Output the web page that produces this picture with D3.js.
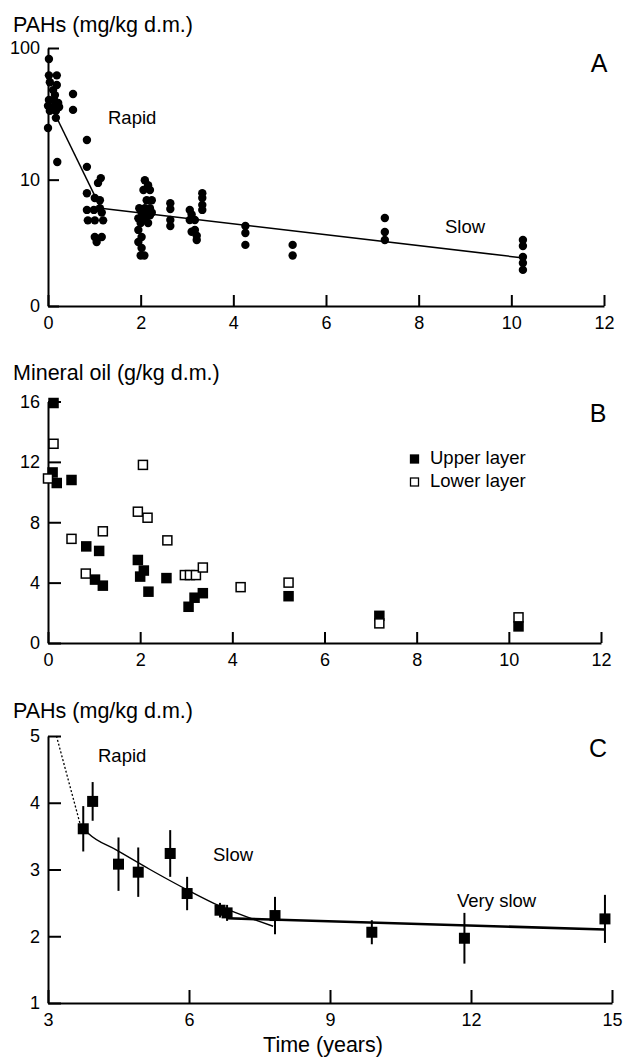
<!DOCTYPE html>
<html>
<head>
<meta charset="utf-8">
<script src="https://cdn.jsdelivr.net/npm/d3@7"></script>
<style>
  body { margin: 0; background: #fff; }
  svg text { font-family: "Liberation Sans", Arial, sans-serif; fill: #000; }
</style>
</head>
<body>
<svg id="chart" width="623" height="1057"></svg>
<script>
// Panel A: PAHs, all samples
const pahTime = [0.02, 0.02, 0.19, 0.04, 0.19, 0.11, 0.15, 0.02, 0.13, 0.22, 0, 0.11, 0.24, 0.04, 0.17, 0.17, 0, 0.2,
  0.54, 0.54, 0.84, 0.84,
  1.14, 1.08, 0.84, 1.01, 1.12, 0.84, 0.99, 1.12, 1.16, 0.86, 1.01, 1.19, 1.01, 1.16, 1.05,
  2.09, 2.16, 2.2, 2.06, 2.13, 2.24, 1.97, 2.09, 2.2, 2.02, 2.13, 2.24, 1.95, 2.09, 2.2, 2.0, 2.16, 1.95, 2.02, 1.95, 2.02, 2.0, 2.08,
  2.64, 2.64, 2.64, 2.64,
  3.06, 3.1, 3.17, 3.06, 3.1, 3.17, 3.21, 3.21,
  3.33, 3.33, 3.33, 3.33,
  4.26, 4.26, 4.26, 5.28, 5.28,
  7.27, 7.27, 7.27,
  10.25, 10.25, 10.25, 10.25, 10.25];
const pahValue = [83, 63, 63, 56, 53.5, 49, 45, 41.4, 41.4, 39.3, 37.4, 36.7, 36.7, 34.3, 34.3, 30.4, 25.5, 13.9,
  45.9, 34.9, 20.6, 12.7,
  10.3, 9.4, 7.7, 7.0, 6.7, 5.5, 5.5, 5.7, 5.2, 4.4, 4.4, 4.4, 3.0, 3.0, 2.65,
  9.9, 9.0, 8.2, 8.2, 6.7, 6.7, 5.7, 5.7, 5.7, 5.2, 5.2, 5.2, 4.6, 4.6, 4.9, 4.15, 4.15, 3.55, 3.0, 2.65, 2.27, 1.84, 1.84,
  6.3, 5.6, 4.44, 3.88,
  5.5, 5.0, 4.44, 4.44, 3.4, 3.55, 3.1, 2.79,
  7.7, 7.0, 6.1, 5.5,
  3.88, 3.3, 2.46, 2.46, 1.84,
  4.63, 3.38, 2.79,
  2.79, 2.39, 1.76, 1.46, 1.15];
const rapidFitA = [[0.17, 31.4], [1.14, 5.7]];
const slowFitA = [[1.14, 5.7], [10.22, 1.72]];

// Panel B: mineral oil, upper and lower layer
const upperTime = [0.12, 0.10, 0.19, 0.51, 0.83, 1.11, 1.02, 1.19, 1.95, 2.08, 2.0, 2.18, 2.57, 3.05, 3.18, 3.36, 5.22, 7.19, 10.21];
const upperValue = [15.9, 11.3, 10.6, 10.8, 6.4, 6.1, 4.2, 3.8, 5.5, 4.8, 4.4, 3.4, 4.3, 2.4, 3.0, 3.3, 3.1, 1.8, 1.1];
const lowerTime = [0.12, 2.06, 0.0, 1.95, 2.16, 0.51, 1.19, 2.59, 0.82, 2.97, 3.08, 3.21, 3.36, 4.18, 5.22, 7.19, 10.21];
const lowerValue = [13.2, 11.8, 10.9, 8.7, 8.3, 6.9, 7.4, 6.8, 4.6, 4.5, 4.5, 4.5, 5.0, 3.7, 4.0, 1.3, 1.7];

// Panel C: PAHs means with error bars
const cTime = [3.75, 3.95, 4.50, 4.92, 5.60, 5.96, 6.66, 6.81, 7.83, 9.89, 11.86, 14.85];
const cMean = [3.61, 4.02, 3.08, 2.96, 3.24, 2.64, 2.39, 2.35, 2.31, 2.06, 1.97, 2.26];
const cErr = [0.34, 0.29, 0.40, 0.37, 0.35, 0.25, 0.11, 0.12, 0.28, 0.18, 0.38, 0.36];
const rapidFitC = [[3.18, 5.0], [3.68, 3.69]];
const slowFitC = [[3.75, 3.62], [3.86, 3.54], [4.46, 3.29], [5.17, 3.0], [5.95, 2.70], [6.66, 2.45], [7.79, 2.15]];
const verySlowFitC = [[6.8, 2.27], [14.85, 2.10]];

const svg = d3.select("#chart");

function styleAxis(g) {
  g.select(".domain").attr("stroke-width", 2);
  g.selectAll(".tick line").attr("stroke-width", 2);
  g.selectAll(".tick text").style("font-size", "18px").attr("fill", "#000");
  g.attr("font-family", null);
}

function addText(x, y, txt, size, anchor) {
  svg.append("text")
    .attr("x", x)
    .attr("y", y)
    .attr("text-anchor", anchor || "start")
    .style("font-size", size + "px")
    .text(txt);
}

// ---------- Panel A ----------
const xA = d3.scaleLinear().domain([0, 12]).range([48, 604]);
const yA = d3.scaleSymlog().constant(1.4).domain([0, 100]).range([306, 48]);

svg.append("g")
  .attr("transform", "translate(0,306)")
  .call(d3.axisBottom(xA).tickValues([0, 2, 4, 6, 8, 10, 12]).tickSizeInner(-11).tickSizeOuter(0).tickPadding(10))
  .call(styleAxis);
svg.append("g")
  .attr("transform", "translate(48,0)")
  .call(d3.axisLeft(yA).tickValues([0, 10, 100]).tickFormat(d3.format("d")).tickSizeInner(-11).tickSizeOuter(0).tickPadding(8))
  .call(styleAxis);

const lineA = d3.line().x(d => xA(d[0])).y(d => yA(d[1]));
[rapidFitA, slowFitA].forEach(f => {
  svg.append("path").attr("d", lineA(f)).attr("fill", "none").attr("stroke", "#000").attr("stroke-width", 1.5);
});

svg.append("g").selectAll("circle")
  .data(pahTime)
  .enter()
  .append("circle")
  .attr("cx", d => xA(d))
  .attr("cy", (d, i) => yA(pahValue[i]))
  .attr("r", 4.2)
  .attr("fill", "#000");

addText(13, 32, "PAHs (mg/kg d.m.)", 21.5);
addText(599, 72, "A", 25, "middle");
addText(108, 124, "Rapid", 18.5);
addText(445, 233, "Slow", 18.5);

// ---------- Panel B ----------
const xB = d3.scaleLinear().domain([0, 12]).range([48, 601]);
const yB = d3.scaleLinear().domain([0, 16]).range([643, 401.5]);

svg.append("g")
  .attr("transform", "translate(0,643)")
  .call(d3.axisBottom(xB).tickValues([0, 2, 4, 6, 8, 10, 12]).tickSizeInner(-11).tickSizeOuter(0).tickPadding(10))
  .call(styleAxis);
svg.append("g")
  .attr("transform", "translate(48,0)")
  .call(d3.axisLeft(yB).tickValues([0, 4, 8, 12, 16]).tickSizeInner(-13).tickSizeOuter(0).tickPadding(8))
  .call(styleAxis);

const sq = 10.5;
svg.append("g").selectAll("rect")
  .data(upperTime)
  .enter()
  .append("rect")
  .attr("x", d => xB(d) - sq / 2)
  .attr("y", (d, i) => yB(upperValue[i]) - sq / 2)
  .attr("width", sq)
  .attr("height", sq)
  .attr("fill", "#000");

svg.append("g").selectAll("rect")
  .data(lowerTime)
  .enter()
  .append("rect")
  .attr("x", d => xB(d) - (sq - 1.5) / 2)
  .attr("y", (d, i) => yB(lowerValue[i]) - (sq - 1.5) / 2)
  .attr("width", sq - 1.5)
  .attr("height", sq - 1.5)
  .attr("fill", "#fff")
  .attr("stroke", "#000")
  .attr("stroke-width", 1.5);

// Legend
const legendData = [
  { label: "Upper layer", fill: "#000", y: 464 },
  { label: "Lower layer", fill: "#fff", y: 487 }
];
const legendGroup = svg.append("g");
legendGroup.selectAll("rect")
  .data(legendData)
  .enter()
  .append("rect")
  .attr("x", 410.5)
  .attr("y", d => d.y - 9)
  .attr("width", 8)
  .attr("height", 8)
  .attr("fill", d => d.fill)
  .attr("stroke", "#000")
  .attr("stroke-width", 1.3);
legendGroup.selectAll("text")
  .data(legendData)
  .enter()
  .append("text")
  .attr("x", 430)
  .attr("y", d => d.y)
  .style("font-size", "18.5px")
  .text(d => d.label);

addText(13, 380, "Mineral oil (g/kg d.m.)", 21.5);
addText(598, 422, "B", 25, "middle");

// ---------- Panel C ----------
const xC = d3.scaleLinear().domain([3, 15]).range([48, 612]);
const yC = d3.scaleLinear().domain([1, 5]).range([1003, 736]);

svg.append("g")
  .attr("transform", "translate(0,1003)")
  .call(d3.axisBottom(xC).tickValues([3, 6, 9, 12, 15]).tickSizeInner(-13).tickSizeOuter(0).tickPadding(10))
  .call(styleAxis);
svg.append("g")
  .attr("transform", "translate(48,0)")
  .call(d3.axisLeft(yC).tickValues([1, 2, 3, 4, 5]).tickFormat(d3.format("d")).tickSizeInner(-13).tickSizeOuter(0).tickPadding(8))
  .call(styleAxis);

const lineC = d3.line().x(d => xC(d[0])).y(d => yC(d[1]));
svg.append("path").attr("d", lineC(rapidFitC)).attr("fill", "none").attr("stroke", "#000")
  .attr("stroke-width", 1.3).attr("stroke-dasharray", "2,2");
svg.append("path").attr("d", lineC.curve(d3.curveMonotoneX)(slowFitC)).attr("fill", "none").attr("stroke", "#000")
  .attr("stroke-width", 1.4);
svg.append("path").attr("d", lineC.curve(d3.curveLinear)(verySlowFitC)).attr("fill", "none").attr("stroke", "#000")
  .attr("stroke-width", 2.6);

// Error bars
svg.append("g").selectAll("line")
  .data(cTime)
  .enter()
  .append("line")
  .attr("x1", d => xC(d))
  .attr("x2", d => xC(d))
  .attr("y1", (d, i) => yC(cMean[i] + cErr[i]))
  .attr("y2", (d, i) => yC(cMean[i] - cErr[i]))
  .attr("stroke", "#000")
  .attr("stroke-width", 2);

svg.append("g").selectAll("rect")
  .data(cTime)
  .enter()
  .append("rect")
  .attr("x", d => xC(d) - 5.5)
  .attr("y", (d, i) => yC(cMean[i]) - 5.5)
  .attr("width", 11)
  .attr("height", 11)
  .attr("fill", "#000");

addText(13, 718, "PAHs (mg/kg d.m.)", 21.5);
addText(598, 757, "C", 25, "middle");
addText(98, 762, "Rapid", 18.5);
addText(213, 861, "Slow", 18.5);
addText(457, 907, "Very slow", 18.5);
addText(323, 1052, "Time (years)", 21.5, "middle");
</script>
</body>
</html>
